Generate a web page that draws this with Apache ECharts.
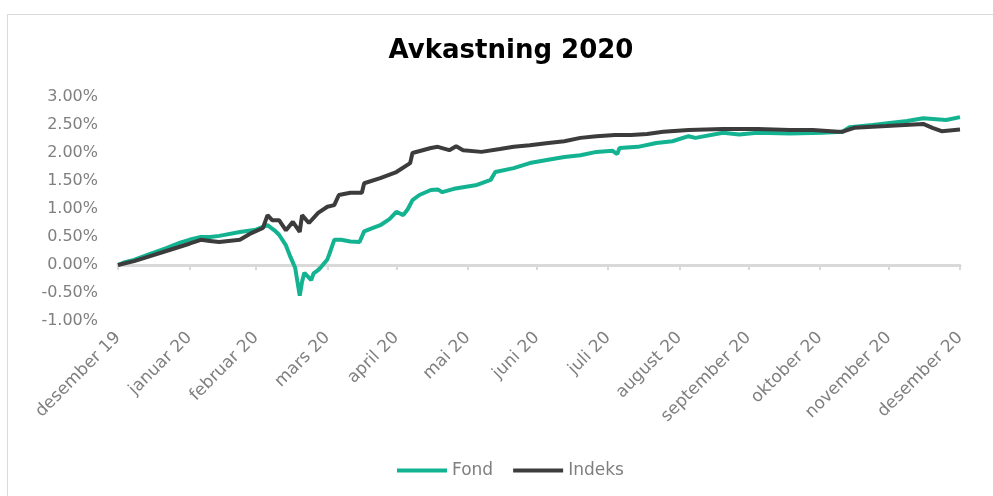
<!DOCTYPE html>
<html>
<head>
<meta charset="utf-8">
<script src="https://cdn.jsdelivr.net/npm/echarts@6/dist/echarts.min.js"></script>
<style>
html,body{margin:0;padding:0;background:#fff;}
#chart{width:993px;height:496px;}
</style>
</head>
<body>
<div id="chart"></div>
<script>
// Tick dates (month ends) and their labels
const monthEnds = ['2019-12-31','2020-01-31','2020-02-29','2020-03-31','2020-04-30','2020-05-31','2020-06-30','2020-07-31','2020-08-31','2020-09-30','2020-10-31','2020-11-30','2020-12-31'];
const monthLabels = ['desember 19','januar 20','februar 20','mars 20','april 20','mai 20','juni 20','juli 20','august 20','september 20','oktober 20','november 20','desember 20'];

// Y-axis (percent)
const yMin = -1, yMax = 3, yStep = 0.5;

// Series: [date, return in %]
const fond = [
['2019-12-31',0.00],['2020-01-03',0.05],['2020-01-07',0.09],['2020-01-14',0.20],['2020-01-21',0.30],['2020-01-27',0.40],
['2020-01-31',0.45],['2020-02-05',0.50],['2020-02-09',0.50],['2020-02-13',0.52],['2020-02-22',0.59],['2020-02-29',0.63],
['2020-03-03',0.68],['2020-03-05',0.71],['2020-03-08',0.62],['2020-03-10',0.54],['2020-03-13',0.35],['2020-03-15',0.14],
['2020-03-17',-0.05],['2020-03-18',-0.30],['2020-03-19',-0.55],['2020-03-20',-0.30],['2020-03-21',-0.14],['2020-03-24',-0.27],
['2020-03-25',-0.15],['2020-03-27',-0.09],['2020-03-28',-0.05],['2020-03-29',0.00],['2020-03-31',0.10],['2020-04-01',0.21],
['2020-04-03',0.45],['2020-04-06',0.45],['2020-04-10',0.42],['2020-04-14',0.41],['2020-04-16',0.60],['2020-04-19',0.65],
['2020-04-23',0.71],['2020-04-27',0.82],['2020-04-30',0.95],['2020-05-03',0.89],['2020-05-05',1.00],['2020-05-07',1.16],
['2020-05-10',1.25],['2020-05-15',1.34],['2020-05-18',1.35],['2020-05-20',1.30],['2020-05-25',1.36],['2020-05-29',1.39],
['2020-06-04',1.43],['2020-06-10',1.52],['2020-06-12',1.66],['2020-06-20',1.73],['2020-06-27',1.82],['2020-07-05',1.88],
['2020-07-12',1.93],['2020-07-19',1.96],['2020-07-26',2.02],['2020-08-02',2.04],['2020-08-04',1.98],['2020-08-05',2.09],
['2020-08-13',2.11],['2020-08-21',2.18],['2020-08-28',2.21],['2020-09-04',2.30],['2020-09-07',2.27],['2020-09-19',2.36],
['2020-09-26',2.33],['2020-10-04',2.36],['2020-10-18',2.35],['2020-11-01',2.36],['2020-11-10',2.38],['2020-11-13',2.46],
['2020-11-23',2.50],['2020-12-08',2.57],['2020-12-15',2.62],['2020-12-25',2.59],['2020-12-31',2.64]
];
const indeks = [
['2019-12-31',0.00],['2020-01-07',0.07],['2020-01-14',0.16],['2020-01-21',0.25],['2020-01-31',0.38],['2020-02-05',0.45],
['2020-02-09',0.43],['2020-02-13',0.41],['2020-02-22',0.45],['2020-02-27',0.57],['2020-03-03',0.66],['2020-03-05',0.89],
['2020-03-07',0.80],['2020-03-10',0.80],['2020-03-13',0.62],['2020-03-16',0.77],['2020-03-19',0.59],['2020-03-20',0.89],
['2020-03-23',0.75],['2020-03-27',0.93],['2020-03-31',1.04],['2020-04-03',1.07],['2020-04-05',1.25],['2020-04-10',1.29],
['2020-04-15',1.29],['2020-04-16',1.46],['2020-04-23',1.55],['2020-04-30',1.66],['2020-05-06',1.82],['2020-05-07',2.00],
['2020-05-15',2.09],['2020-05-18',2.11],['2020-05-23',2.05],['2020-05-26',2.12],['2020-05-29',2.05],['2020-06-06',2.02],
['2020-06-14',2.07],['2020-06-20',2.11],['2020-06-27',2.14],['2020-07-05',2.18],['2020-07-12',2.21],['2020-07-19',2.27],
['2020-07-26',2.30],['2020-08-03',2.32],['2020-08-10',2.32],['2020-08-17',2.34],['2020-08-24',2.38],['2020-09-04',2.41],
['2020-09-19',2.43],['2020-10-04',2.43],['2020-10-18',2.41],['2020-10-28',2.41],['2020-11-08',2.38],['2020-11-10',2.38],
['2020-11-15',2.45],['2020-11-29',2.48],['2020-12-15',2.52],['2020-12-19',2.45],['2020-12-23',2.39],['2020-12-31',2.42]
];

// Day number counted from the first month end (2019-12-31)
function dayOf(s){ const p = s.split('-').map(Number); return Math.round((Date.UTC(p[0], p[1]-1, p[2]) - Date.UTC(2019, 11, 31)) / 86400000); }
const tickDays = monthEnds.map(dayOf);
function labelFor(v){ const i = tickDays.indexOf(Math.round(v)); return i >= 0 ? monthLabels[i] : ''; }
const toXY = arr => arr.map(d => [dayOf(d[0]), d[1]]);

const chart = echarts.init(document.getElementById('chart'), null, {renderer:'canvas'});
const labelFont = 'DejaVu Sans';
chart.setOption({
  animation: false,
  backgroundColor: '#ffffff',
  graphic: [{
    type: 'rect', z: -10, silent: true,
    shape: {x: 7.5, y: 14.5, width: 1000, height: 600},
    style: {fill: 'none', stroke: '#d9d9d9', lineWidth: 1}
  }],
  title: {
    text: 'Avkastning 2020',
    left: 506, top: 33, textAlign: 'center',
    textStyle: {fontFamily: labelFont, fontWeight: 'bold', fontSize: 26, color: '#000000'}
  },
  legend: {
    left: 392, top: 457,
    icon: 'rect',
    itemWidth: 50, itemHeight: 4, itemGap: 20,
    textStyle: {fontFamily: labelFont, fontSize: 17, color: '#7f7f7f'},
    data: ['Fond', 'Indeks']
  },
  grid: {left: 118, right: 33, top: 97, bottom: 175, containLabel: false, outerBoundsMode: 'none'},
  xAxis: [{
    type: 'value', position: 'bottom',
    min: tickDays[0], max: tickDays[tickDays.length-1],
    axisLine: {show: true, onZero: true, lineStyle: {color: '#d9d9d9', width: 3}},
    axisTick: {show: true, length: 5, customValues: tickDays, lineStyle: {color: '#d9d9d9', width: 2}},
    axisLabel: {show: false},
    splitLine: {show: false}
  }, {
    type: 'value', position: 'bottom',
    min: tickDays[0], max: tickDays[tickDays.length-1],
    axisLine: {show: false, onZero: false},
    axisTick: {show: false},
    splitLine: {show: false},
    axisLabel: {
      show: true, rotate: 45, margin: 14, customValues: tickDays,
      fontFamily: labelFont, fontSize: 17, color: '#7f7f7f',
      formatter: function(v){ return labelFor(v); }
    }
  }],
  yAxis: {
    type: 'value', min: yMin, max: yMax, interval: yStep,
    axisLine: {show: false}, axisTick: {show: false}, splitLine: {show: false},
    axisLabel: {
      margin: 20, fontFamily: labelFont, fontSize: 16, color: '#7f7f7f',
      formatter: function(v){ return v.toFixed(2) + '%'; }
    }
  },
  series: [{
    name: 'Fond', type: 'line', xAxisIndex: 0, data: toXY(fond),
    symbol: 'none', smooth: false,
    lineStyle: {color: '#13b391', width: 4}, itemStyle: {color: '#13b391'}
  }, {
    name: 'Indeks', type: 'line', xAxisIndex: 0, data: toXY(indeks),
    symbol: 'none', smooth: false,
    lineStyle: {color: '#3c3c3c', width: 4}, itemStyle: {color: '#3c3c3c'}
  }]
});
</script>
</body>
</html>
